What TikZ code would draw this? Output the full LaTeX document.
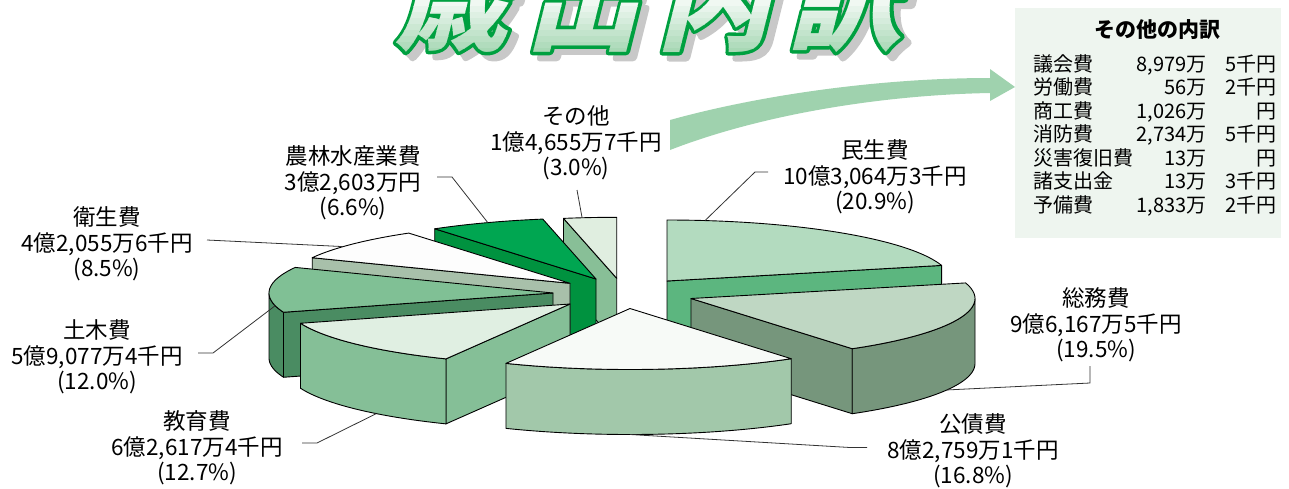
\documentclass[tikz,border=0pt]{standalone}
\usepackage{fontspec}
\setmainfont{Noto Sans CJK JP}
\newfontfamily\ttlfont{Noto Sans CJK JP}
\definecolor{cMinTop}{HTML}{B3DBBF}
\definecolor{cMinSide}{HTML}{5CB67F}
\definecolor{cSouTop}{HTML}{BFD7C3}
\definecolor{cSouSide}{HTML}{76967C}
\definecolor{cKouTop}{HTML}{F7FAF7}
\definecolor{cKouSide}{HTML}{A2C8AA}
\definecolor{cKyoTop}{HTML}{E0EFE2}
\definecolor{cKyoSide}{HTML}{85BF97}
\definecolor{cDobTop}{HTML}{80C095}
\definecolor{cDobSide}{HTML}{4A8C62}
\definecolor{cEisTop}{HTML}{FDFDFD}
\definecolor{cEisSide}{HTML}{A8C0AA}
\definecolor{cNouTop}{HTML}{00A651}
\definecolor{cNouSide}{HTML}{00923F}
\definecolor{cSonTop}{HTML}{E0EEE0}
\definecolor{cSonSide}{HTML}{88BF97}
\definecolor{cArrow}{HTML}{9FD2AE}
\definecolor{cBox}{HTML}{EEF5EF}
\definecolor{cTtlLine}{HTML}{00A040}
\definecolor{cTtlTop}{HTML}{F0F8F2}
\definecolor{cTtlBot}{HTML}{A8D8B5}
\definecolor{cShadow}{HTML}{C8C8C8}
\def\PA{284}\def\PB{61}\def\PH{65}
\newcommand{\ptop}[5]{%
  \filldraw[sliceline, fill=#5] (#1,#2) -- plot[domain=#3:#4, samples=40] ({#1+\PA*sin(\x)},{#2-\PB*cos(\x)}) -- cycle;}
\newcommand{\prim}[5]{%
  \filldraw[sliceline, fill=#5] plot[domain=#3:#4, samples=40] ({#1+\PA*sin(\x)},{#2-\PB*cos(\x)}) -- plot[domain=#4:#3, samples=40] ({#1+\PA*sin(\x)},{#2+\PH-\PB*cos(\x)}) -- cycle;}
\newcommand{\prad}[4]{%
  \filldraw[sliceline, fill=#4] (#1,#2) -- ({#1+\PA*sin(#3)},{#2-\PB*cos(#3)}) -- ++(0,\PH) -- ({#1},{#2+\PH}) -- cycle;}
\newcommand{\ttltext}{歳\hspace{17pt}出\hspace{17pt}内\hspace{17pt}訳}
\newcommand{\strokedtext}[2]{\special{pdf:literal direct #1 RG #2 w 1 j 2 Tr}\ttltext\special{pdf:literal direct 0 Tr}}
\begin{document}
\begin{tikzpicture}[x=1pt,y=-1pt,
  sliceline/.style={draw=black, line width=0.9pt, line join=round},
  leader/.style={draw=black!80, line width=0.8pt},
  lbl/.style={font=\fontsize{22.5}{25.5}\selectfont, align=center, inner sep=0pt},
  boxtxt/.style={font=\fontsize{20}{24}\selectfont, inner sep=0pt},
  ttl/.style={font=\ttlfont\fontsize{114}{116}\selectfont\bfseries, inner sep=0pt, anchor=base, transform shape}]
\useasboundingbox (0,0) rectangle (1289,488);

% ---------- title ----------
\begin{scope}
\clip (0,0) rectangle (1289,62);
\begin{scope}[shift={(655,47)}, xslant=0.25]
  \node[ttl, text=cShadow] (ttlshadow) at (0,0) {\strokedtext{0.784 0.784 0.784}{7}};
\end{scope}
\begin{scope}[shift={(648,41)}, xslant=0.25]
  \node[ttl, text=cTtlLine] (ttlline) at (0,0) {\strokedtext{0 0.627 0.251}{7}};
\end{scope}
\foreach \i in {0,...,8}{
  \pgfmathtruncatemacro\p{100*\i/8}
  \begin{scope}
    \clip (0,{\i*6}) rectangle (1289,{\i*6+6});
    \begin{scope}[shift={(648,41)}, xslant=0.25]
      \node[ttl, text=cTtlBot!\p!cTtlTop] (ttlfill) at (0,0) {\ttltext};
    \end{scope}
  \end{scope}}
\end{scope}

% ---------- box ----------
\node[fill=cBox, minimum width=266pt, minimum height=230pt, inner sep=0pt] (box) at (1148,123) {};
\node[boxtxt, font=\fontsize{21}{24}\selectfont\bfseries] (boxtitle) at (1157,30) {その他の内訳};
\node[boxtxt, anchor=base west] (r1a) at (1033,71) {議会費};
\node[boxtxt, anchor=base east] (r1b) at (1207,71) {8,979万};
\node[boxtxt, anchor=base east] (r1c) at (1277,71) {5千円};
\node[boxtxt, anchor=base west] (r2a) at (1033,94.5) {労働費};
\node[boxtxt, anchor=base east] (r2b) at (1207,94.5) {56万};
\node[boxtxt, anchor=base east] (r2c) at (1277,94.5) {2千円};
\node[boxtxt, anchor=base west] (r3a) at (1033,118) {商工費};
\node[boxtxt, anchor=base east] (r3b) at (1207,118) {1,026万};
\node[boxtxt, anchor=base east] (r3c) at (1277,118) {円};
\node[boxtxt, anchor=base west] (r4a) at (1033,141.5) {消防費};
\node[boxtxt, anchor=base east] (r4b) at (1207,141.5) {2,734万};
\node[boxtxt, anchor=base east] (r4c) at (1277,141.5) {5千円};
\node[boxtxt, anchor=base west] (r5a) at (1033,165) {災害復旧費};
\node[boxtxt, anchor=base east] (r5b) at (1207,165) {13万};
\node[boxtxt, anchor=base east] (r5c) at (1277,165) {円};
\node[boxtxt, anchor=base west] (r6a) at (1033,188.5) {諸支出金};
\node[boxtxt, anchor=base east] (r6b) at (1207,188.5) {13万};
\node[boxtxt, anchor=base east] (r6c) at (1277,188.5) {3千円};
\node[boxtxt, anchor=base west] (r7a) at (1033,212) {予備費};
\node[boxtxt, anchor=base east] (r7b) at (1207,212) {1,833万};
\node[boxtxt, anchor=base east] (r7c) at (1277,212) {2千円};

% ---------- arrow ----------
\coordinate (arrA) at (670,120);
\coordinate (arrB) at (670,150);
\coordinate (arrTip) at (1015,87);
\fill[cArrow] (arrA) .. controls (760,95) and (880,78) .. (990,78) -- (990,69) -- (arrTip)
  -- (990,101) -- (990,93) .. controls (880,95) and (760,115) .. (arrB) -- cycle;

% ---------- pie slices ----------
% その他
\prad{616.7}{278.3}{349.2}{cSonSide}
\ptop{616.7}{278.3}{349.2}{360}{cSonTop}
% 農林水産業費
\prad{596}{279}{325.4}{cNouSide}
\ptop{596}{279}{325.4}{349.2}{cNouTop}
% 民生費
\prad{667}{281}{75.2}{cMinSide}
\ptop{667}{281}{0}{75.2}{cMinTop}
% 衛生費
\prad{570}{283.3}{294.8}{cEisSide}
\ptop{570}{283.3}{294.8}{325.4}{cEisTop}
% 土木費
\prad{553}{293}{251.6}{cDobSide}
\prim{553}{293}{251.6}{270}{cDobSide}
\ptop{553}{293}{251.6}{294.8}{cDobTop}
% 総務費
\prad{691}{298.5}{145.4}{cSouSide}
\prim{691}{298.5}{90}{145.4}{cSouSide}
\ptop{691}{298.5}{75.2}{145.4}{cSouTop}
% 教育費
\prad{570}{304}{205.9}{cKyoSide}
\prim{570}{304}{205.9}{251.6}{cKyoSide}
\ptop{570}{304}{205.9}{251.6}{cKyoTop}
% 公債費
\prim{630}{308.5}{145.4}{205.9}{cKouSide}
\ptop{630}{308.5}{145.4}{205.9}{cKouTop}

% ---------- labels ----------
\node[lbl] (l-sonota) at (576,143) {その他\\1億4,655万7千円\\(3.0\%)};
\node[lbl] (l-minsei) at (875,177) {民生費\\10億3,064万3千円\\(20.9\%)};
\node[lbl] (l-soumu) at (1096,325) {総務費\\9億6,167万5千円\\(19.5\%)};
\node[lbl] (l-kousai) at (973,451) {公債費\\8億2,759万1千円\\(16.8\%)};
\node[lbl] (l-kyouiku) at (197,448) {教育費\\6億2,617万4千円\\(12.7\%)};
\node[lbl] (l-doboku) at (97,357) {土木費\\5億9,077万4千円\\(12.0\%)};
\node[lbl] (l-eisei) at (107,244) {衛生費\\4億2,055万6千円\\(8.5\%)};
\node[lbl] (l-nourin) at (353,183) {農林水産業費\\3億2,603万円\\(6.6\%)};

% ---------- leader lines ----------
\coordinate (p-sonota) at ({616.7+284*sin(353)},{278.3-61*cos(353)});
\coordinate (e-sonota) at (577,190);
\draw[leader] (e-sonota) -- (p-sonota);
\coordinate (p-minsei) at ({667+284*sin(7.7)},{281-61*cos(7.7)});
\coordinate (e-minsei) at (768,172);
\coordinate (b-minsei) at (755,172);
\draw[leader] (e-minsei) -- (b-minsei) -- (p-minsei);
\coordinate (p-soumu) at ({691+284*sin(115.7)},{298.5+65-61*cos(115.7)});
\coordinate (b-soumu) at (1090,383);
\coordinate (e-soumu) at (1090,366);
\draw[leader] (p-soumu) -- (b-soumu) -- (e-soumu);
\coordinate (p-kousai) at (630,434.5);
\coordinate (b-kousai) at (850,447.5);
\coordinate (e-kousai) at (867,447.5);
\draw[leader] (p-kousai) -- (b-kousai) -- (e-kousai);
\coordinate (p-kyouiku) at ({570+284*sin(223)},{304+65-61*cos(223)});
\coordinate (b-kyouiku) at (317,443);
\coordinate (e-kyouiku) at (302,443);
\draw[leader] (p-kyouiku) -- (b-kyouiku) -- (e-kyouiku);
\coordinate (p-doboku) at ({553+284*sin(258)},{293-61*cos(258)});
\coordinate (b-doboku) at (213,353);
\coordinate (e-doboku) at (198,353);
\draw[leader] (p-doboku) -- (b-doboku) -- (e-doboku);
\coordinate (p-eisei) at ({570+284*sin(307)},{283.3-61*cos(307)});
\coordinate (e-eisei) at (207,240);
\draw[leader] (e-eisei) -- (p-eisei);
\coordinate (p-nourin) at ({596+284*sin(337.6)},{279-61*cos(337.6)});
\coordinate (b-nourin) at (452,177);
\coordinate (e-nourin) at (437,177);
\draw[leader] (e-nourin) -- (b-nourin) -- (p-nourin);
\end{tikzpicture}
\end{document}
